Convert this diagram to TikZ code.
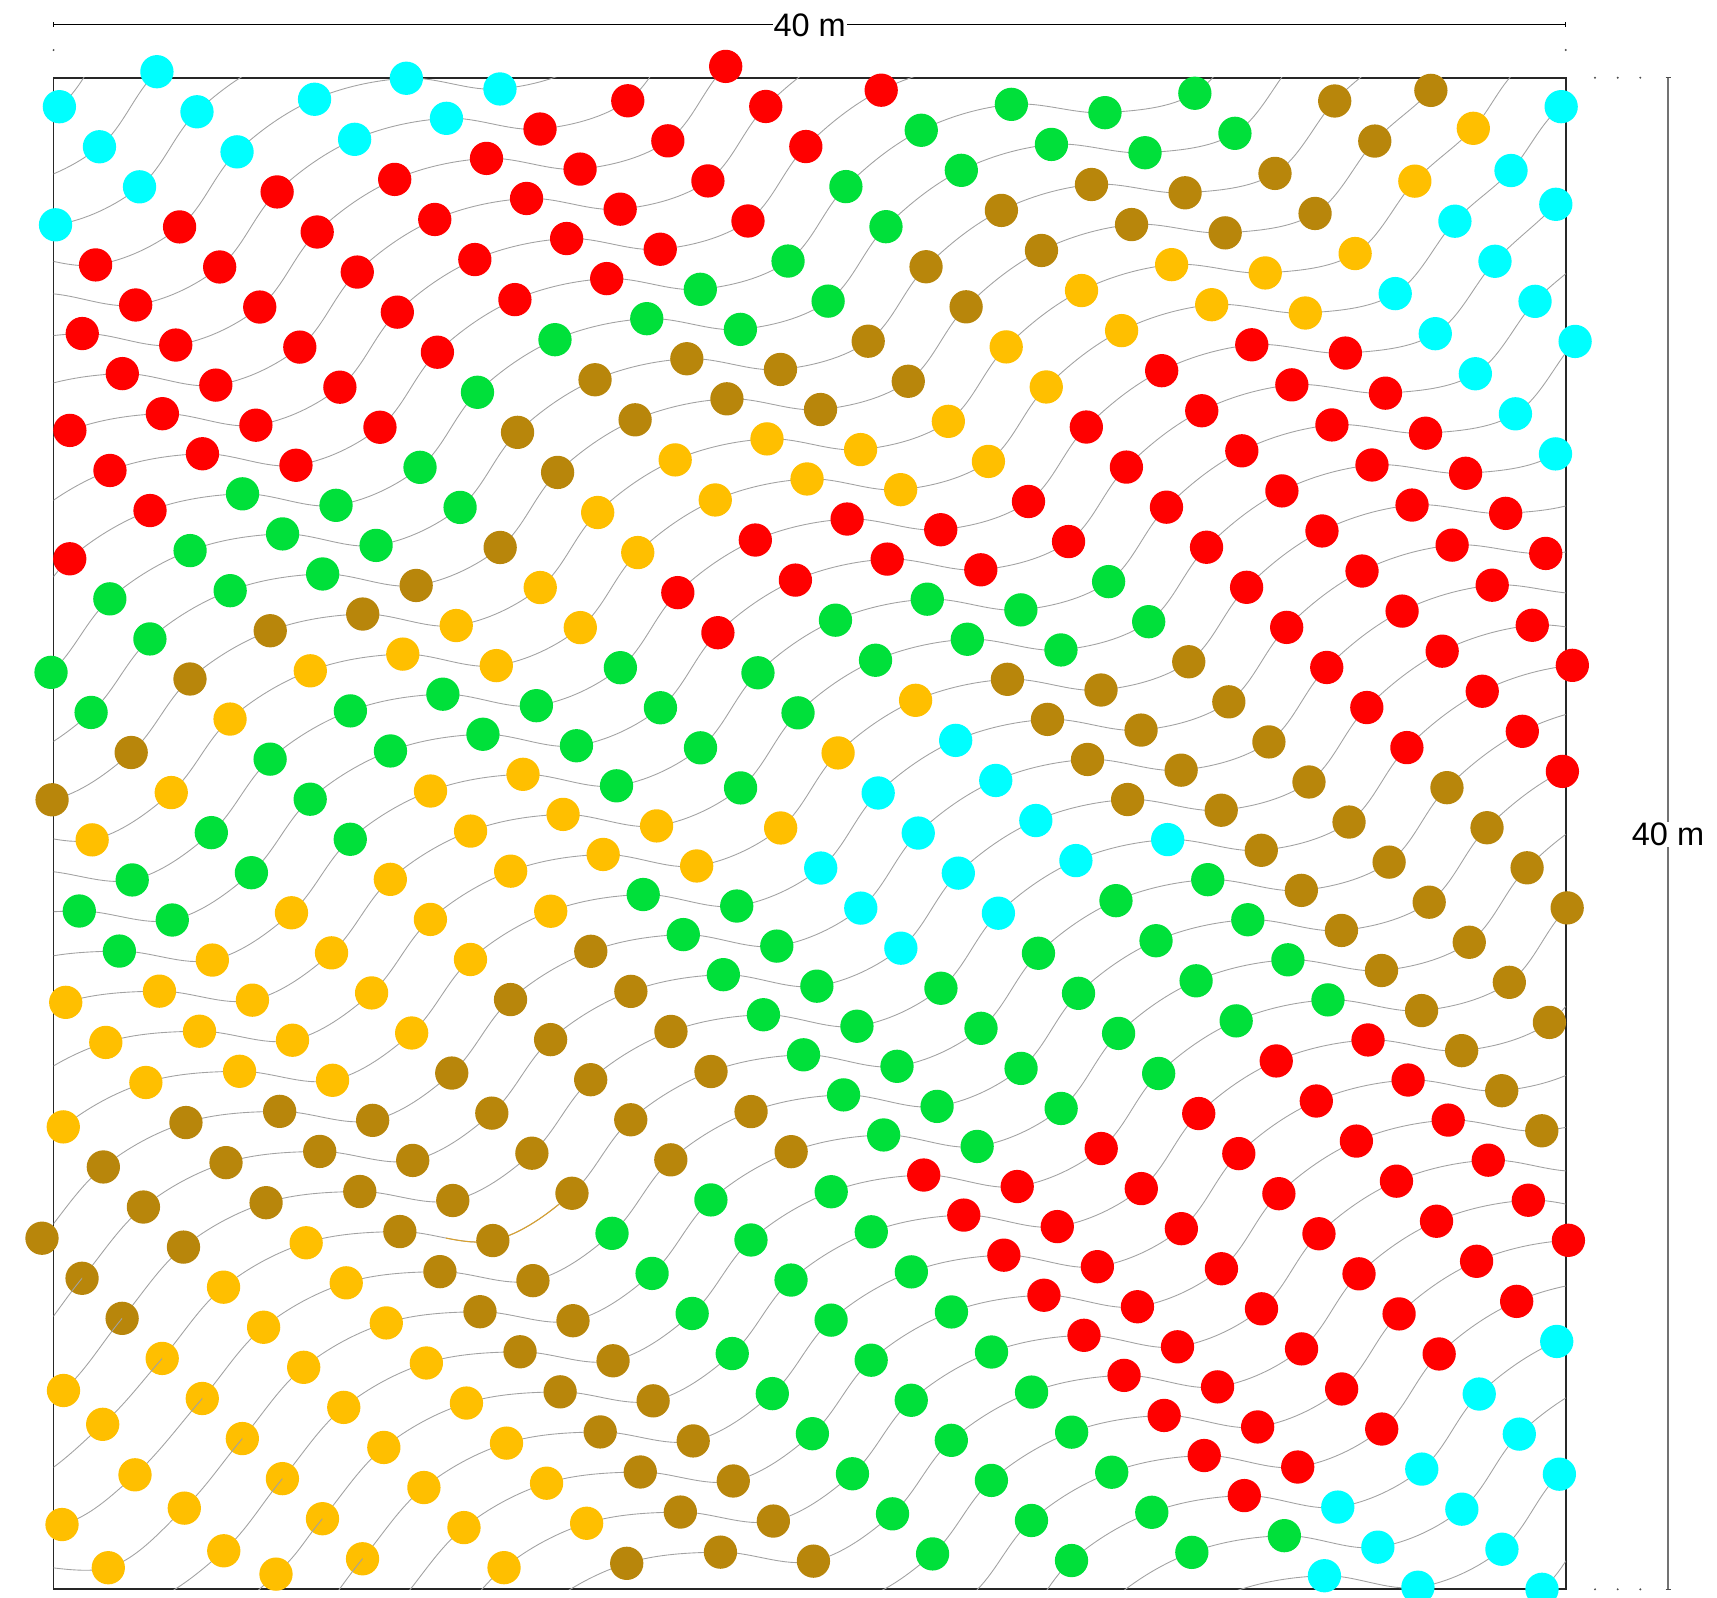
\documentclass[tikz,border=0pt]{standalone}
\usepackage{fontspec}
\setmainfont{Liberation Sans}
\definecolor{colc}{HTML}{00FFFF}
\definecolor{colr}{HTML}{FF0000}
\definecolor{colg}{HTML}{00E03A}
\definecolor{colo}{HTML}{B8860B}
\definecolor{coly}{HTML}{FFBF00}
\definecolor{connc}{HTML}{A2A2A2}
\definecolor{hilite}{HTML}{D9A12E}
% rows of the wave lattice: d = x - y, s = x + y of chain 0 (image pixels)
\def\rowlist{-1550/-193, -1462.5/-96.4, -1327/-68.7, -1196.2/-82.2, -1063.6/-92.1, -936.6/-53.9, -831.7/28.6, -747.7/130.6, -621.3/162.4, -489/147.7, -360.5/179.7, -251.3/255.5, -169.3/360.5, -47.3/406.5, 85.2/388.9, 215.3/413.8, 328.1/484.6, 411/588.9, 527/648.4, 659.3/631.8, 791/650.8, 907/715, 992.3/816.9, 1101.6/887.4, 1233.7/874.7, 1340.5/880.1, 1454.5/866.4, 1564.5/906.4}
% individual particles that sit off the regular row pattern (row index @ chain)
\expandafter\def\csname ov@2@22\endcsname{108.3,1567.7}
\expandafter\def\csname ov@3@20\endcsname{102.7,1424.3}
\expandafter\def\csname ov@3@21\endcsname{135,1474.8}
\expandafter\def\csname ov@3@22\endcsname{184.3,1508.1}
\expandafter\def\csname ov@3@24\endcsname{276,1574.1}
\expandafter\def\csname ov@26@9\endcsname{1473.3,128.3}
\expandafter\def\csname ov@26@11\endcsname{1555.8,204.3}
\newcommand\chain[2]{%
  \gdef\pts{}%
  \foreach \dd/\ss [count=\ri] in \rowlist {%
    \ifcsname ov@\ri @#1\endcsname
      \xdef\pts{\pts(\csname ov@\ri @#1\endcsname)}%
    \else
      \pgfmathsetmacro\px{(\dd+\ss+80.14*(#1))/2}%
      \pgfmathsetmacro\py{(\ss+80.14*(#1)-\dd)/2}%
      \xdef\pts{\pts(\px,\py)}%
    \fi}%
  \edef\tmpcmd{\noexpand\draw[#2] plot[smooth,tension=0.6] coordinates {\pts};}%
  \tmpcmd}
\newcommand\dodot[1]{%
  \ifcsname ov@\currow @\curj\endcsname
    \edef\tmpdot{\noexpand\fill[col#1] (\csname ov@\currow @\curj\endcsname) circle[radius=0.333cm];}%
  \else
    \pgfmathsetmacro\px{(\curd+\curs+80.14*\curj)/2}%
    \pgfmathsetmacro\py{(\curs+80.14*\curj-\curd)/2}%
    \edef\tmpdot{\noexpand\fill[col#1] (\px,\py) circle[radius=0.333cm];}%
  \fi
  \tmpdot}
\newcommand\dotloop[1]{\ifx#1\relax\else\dodot{#1}\pgfmathtruncatemacro\curj{\curj+1}\expandafter\dotloop\fi}
\newcommand\dotrow[5]{\def\currow{#1}\def\curd{#2}\def\curs{#3}\pgfmathtruncatemacro\curj{#4}\dotloop#5\relax}
\begin{document}
\begin{tikzpicture}[x=0.02cm, y=-0.02cm,
  conn/.style={draw=connc, line width=0.5pt},
  lab/.style={font=\fontsize{18.5}{22}\selectfont, fill=white, inner sep=0.6pt}]
\path[use as bounding box] (0,0) rectangle (1717,1597);
\coordinate (TL) at (53.6,77.7);
\coordinate (BR) at (1565.7,1589.3);
\draw[draw=black!85, line width=1pt] (TL) rectangle (BR);
% connectors
\begin{scope}
  \clip (TL) rectangle (BR);
  \foreach \j in {-8,...,40}{\chain{\j}{conn}}
\end{scope}
\begin{scope}
  \clip (445.8,1185) rectangle (558.7,1262);
  \chain{20}{draw=hilite,line width=0.6pt}
\end{scope}
% particles
\dotrow{2}{-1462.5}{-96.4}{21}{yy}
\dotrow{3}{-1327}{-68.7}{19}{yyyyyy}
\dotrow{4}{-1196.2}{-82.2}{17}{ooo yyyyyy}
\dotrow{5}{-1063.6}{-92.1}{16}{y ooo yyyyyyyy}
\dotrow{6}{-936.6}{-53.9}{14}{yyy ooo yyyyyyyy o}
\dotrow{7}{-831.7}{28.6}{12}{gg yyy oooooo oooooo}
\dotrow{8}{-747.7}{130.6}{9}{o y gg yyyy oooooo oooooo}
\dotrow{9}{-621.3}{162.4}{7}{gg o y gg yyyy oooo ggggg gggg}
\dotrow{10}{-489}{147.7}{6}{r gg o y ggg yyy ooooo ggggg ggggg}
\dotrow{11}{-360.5}{179.7}{4}{rrr gg o y gg yyyy oooooo ggggg ggggg}
\dotrow{12}{-251.3}{255.5}{2}{rrrr ggg o y gg yyy ggggggg rrrrr rrrr g c}
\dotrow{13}{-169.3}{360.5}{-1}{c rrrrrr gg o yy ggg yy ggggggg rrrrrrrr ccc}
\dotrow{14}{-47.3}{406.5}{-3}{ccc rrrrrr gg o yy gggg y ccc gggg rrrrrrrr cccc}
\dotrow{15}{85.2}{388.9}{-2}{ccc rrrrr g oo yy rr gg y cccc gggg rrrrrrr ccc}
\dotrow{16}{215.3}{413.8}{0}{cc rrrr g oo yy rr gg y cccc gggg rrrrrrr c}
\dotrow{17}{328.1}{484.6}{0}{cc rrrr g oo yy rr gg oooo c gggg rrrrrr}
\dotrow{18}{411}{588.9}{0}{c rrrr gg oo yy rr gg oooooo oooooo}
\dotrow{19}{527}{648.4}{1}{rrrr gg oo yy rr gg ooooo ooooo}
\dotrow{20}{659.3}{631.8}{2}{rrr gg oo yy rrrrrrrrr oooo}
\dotrow{21}{791}{650.8}{4}{r gg oo yy rrrrrr rrrrr}
\dotrow{22}{907}{715}{5}{gg oo yy rrrrrrrrr}
\dotrow{23}{992.3}{816.9}{5}{gg oo yy rrrrrr}
\dotrow{24}{1101.6}{887.4}{5}{gg oo y ccccc}
\dotrow{25}{1233.7}{874.7}{7}{oo y cccc}
\dotrow{26}{1340.5}{880.1}{8}{o y cc}
\dotrow{27}{1454.5}{866.4}{10}{c}
% connector ends visible on top of one row of particles
\foreach \j in {18,...,25}{
  \pgfmathsetmacro\cx{(-82.2+80.14*\j-1196.2)/2}
  \pgfmathsetmacro\cy{(-82.2+80.14*\j+1196.2)/2}
  \begin{scope}
    \clip ({\cx-18},{\cy-18}) rectangle (\cx,{\cy+18});
    \clip (\cx,\cy) circle[radius=0.333cm];
    \chain{\j}{conn}
  \end{scope}
}
% dimension: width
\coordinate (DL) at (53.6,24.3);
\coordinate (DR) at (1565.7,24.3);
\draw[black, line width=0.55pt] (DL) -- (DR);
\draw[black, line width=0.5pt] (53.6,22) -- (53.6,26.6);
\draw[black, line width=0.5pt] (1565.7,22) -- (1565.7,26.6);
\fill[black!70] (53.6,50) circle[radius=0.022cm];
\fill[black!70] (1565.7,50) circle[radius=0.022cm];
\node[lab] (toplab) at (809.7,25) {40 m};
% dimension: height
\coordinate (VT) at (1668.3,77.7);
\coordinate (VB) at (1668.3,1589.3);
\draw[black!55, line width=1pt] (VT) -- (VB);
\draw[black!70, line width=0.5pt] (1665.5,77.7) -- (1671,77.7);
\draw[black!70, line width=0.5pt] (1665.5,1589.3) -- (1671,1589.3);
\foreach \xx in {1595,1617.7,1640.3}{
  \fill[black!70] (\xx,77.7) circle[radius=0.022cm];
  \fill[black!70] (\xx,1589.3) circle[radius=0.022cm];
}
\node[lab] (rightlab) at (1668,834.5) {40 m};
\end{tikzpicture}
\end{document}
